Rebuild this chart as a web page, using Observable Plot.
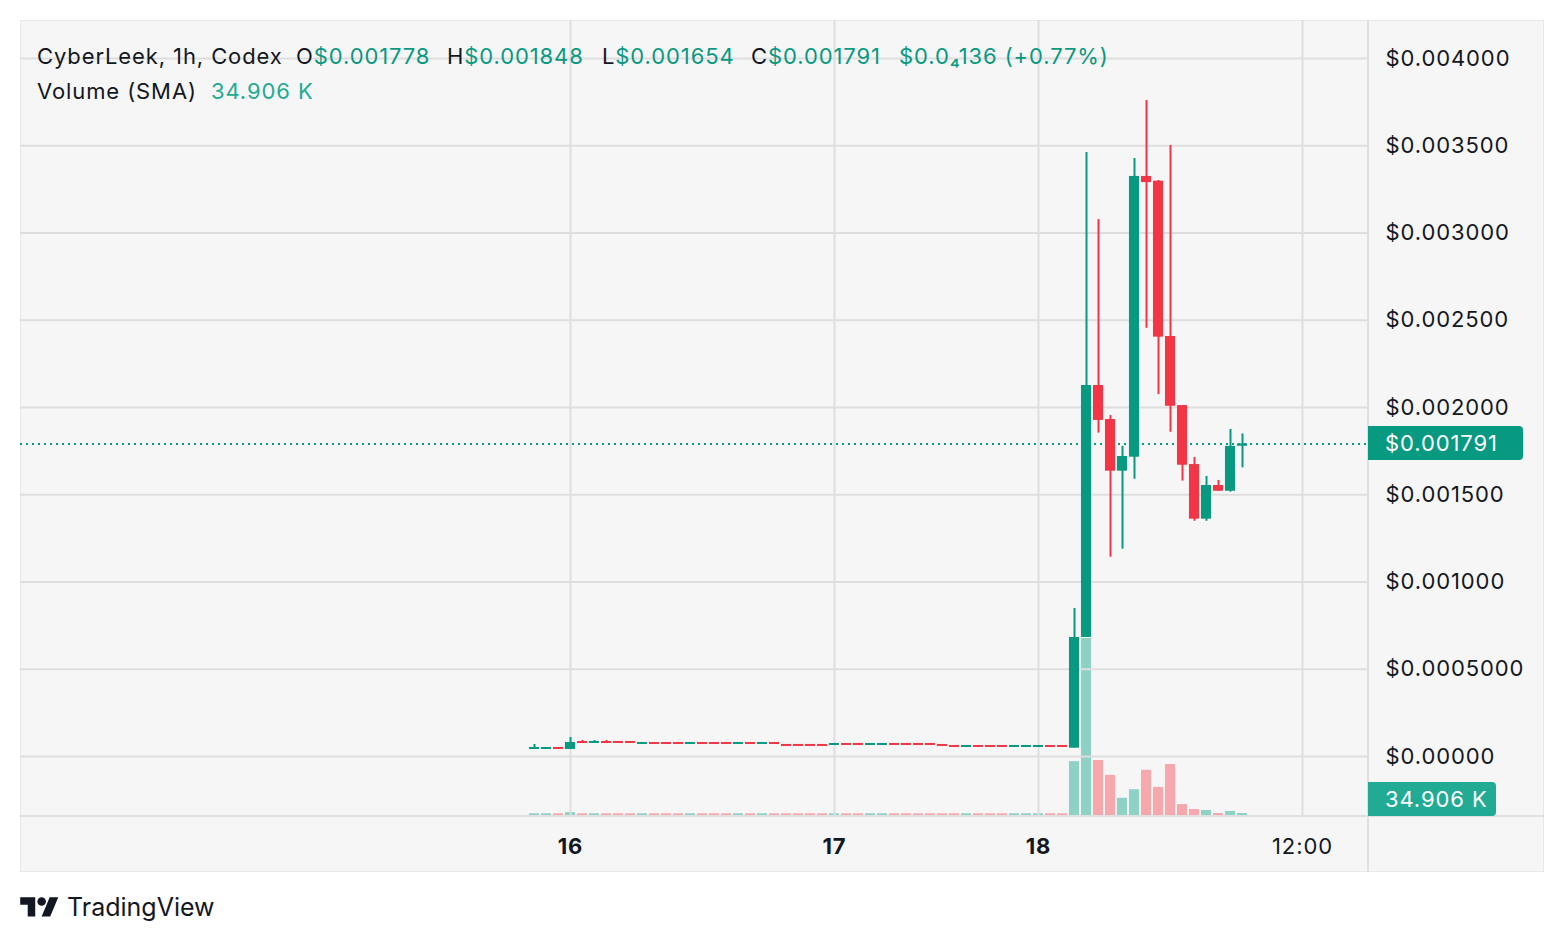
<!DOCTYPE html>
<html><head><meta charset="utf-8">
<script src="https://cdn.jsdelivr.net/npm/d3@7"></script>
<script src="https://cdn.jsdelivr.net/npm/@observablehq/plot@0.6"></script>
<style>
body{margin:0;background:#fff;font-family:Inter,"Noto Sans",sans-serif;}
#wrap{position:relative;width:1564px;height:942px;overflow:hidden;}
#box{position:absolute;left:20px;top:20px;width:1524px;height:852px;background:#f6f6f6;border:1px solid #e8e8ec;box-sizing:border-box;}
.sep{position:absolute;background:#e0e0e0;}
.layer{position:absolute;left:0;top:0;}
.t{position:absolute;font-size:22px;letter-spacing:0.9px;line-height:28px;white-space:pre;color:#131722;}
.g{color:#089981;}
.lbl{position:absolute;color:#fff;font-size:22px;letter-spacing:0.9px;line-height:34px;padding-left:17px;box-sizing:border-box;border-radius:0 4px 4px 0;}
</style></head>
<body><div id="wrap">
<div id="box"></div>
<div class="sep" style="left:1367px;top:20px;width:2px;height:852px"></div>
<div class="sep" style="left:20px;top:815px;width:1524px;height:2px"></div>
<div id="vol" class="layer"></div>
<div id="main" class="layer"></div>
<div class="t" style="left:37px;top:42px">CyberLeek, 1h, Codex</div>
<div class="t" style="left:296px;top:42px">O<span class="g">$0.001778</span></div>
<div class="t" style="left:447px;top:42px">H<span class="g">$0.001848</span></div>
<div class="t" style="left:602px;top:42px">L<span class="g">$0.001654</span></div>
<div class="t" style="left:751px;top:42px">C<span class="g">$0.001791</span></div>
<div class="t g" style="left:899px;top:42px">$0.0₄136 (+0.77%)</div>
<div class="t" style="left:37px;top:77px">Volume (SMA)</div>
<div class="t" style="left:211px;top:77px;color:#22ab94">34.906 K</div>
<div id="plbl" class="lbl" style="background:#089981;width:155px;left:1368px"></div>
<div id="vlbl" class="lbl" style="background:#22ab94;width:128px;left:1368px"></div>
<svg style="position:absolute;left:20px;top:893px" width="39" height="30" viewBox="0 0 36 28"><path fill="#131722" d="M14 22H7V11H0V4h14v18zM28 22h-8l7.5-18h8L28 22z"/><circle fill="#131722" cx="20" cy="8" r="4"/></svg>
<div style="position:absolute;left:67px;top:890px;font-size:25px;line-height:34px;color:#131722">TradingView</div>
</div>
<script>
const open = [
0.0000401,0.0000401,0.0000516,0.0000401,0.0000860,0.0000745,0.0000860,0.0000860,0.0000860,0.0000688,
0.0000802,0.0000802,0.0000802,0.0000688,0.0000802,0.0000802,0.0000802,0.0000688,0.0000802,0.0000688,
0.0000802,0.0000688,0.0000688,0.0000688,0.0000688,0.0000630,0.0000745,0.0000745,0.0000630,0.0000630,
0.0000745,0.0000745,0.0000745,0.0000745,0.0000688,0.0000630,0.0000516,0.0000630,0.0000630,0.0000630,
0.0000516,0.0000516,0.0000516,0.0000630,0.0000630,0.0000476,0.000682,0.002126,0.001931,0.001635,
0.001715,0.003324,0.003297,0.002407,0.002011,0.001673,0.001360,0.001553,0.001520,0.001778];
const close = [
0.0000516,0.0000516,0.0000401,0.0000802,0.0000745,0.0000860,0.0000745,0.0000745,0.0000745,0.0000802,
0.0000688,0.0000688,0.0000688,0.0000802,0.0000688,0.0000688,0.0000688,0.0000802,0.0000688,0.0000802,
0.0000688,0.0000573,0.0000573,0.0000573,0.0000573,0.0000745,0.0000630,0.0000630,0.0000745,0.0000745,
0.0000630,0.0000630,0.0000630,0.0000630,0.0000573,0.0000516,0.0000630,0.0000516,0.0000516,0.0000516,
0.0000630,0.0000630,0.0000630,0.0000516,0.0000516,0.000682,0.002126,0.001926,0.001635,0.001719,
0.003324,0.003289,0.002403,0.002007,0.001669,0.001360,0.001553,0.001520,0.001777,0.001791];
const high = [
0.0000688,0.0000516,0.0000516,0.0001090,0.0000917,0.0000917,0.0000917,0.0000860,0.0000860,0.0000802,
0.0000802,0.0000802,0.0000802,0.0000802,0.0000802,0.0000802,0.0000802,0.0000802,0.0000802,0.0000802,
0.0000802,0.0000688,0.0000688,0.0000688,0.0000688,0.0000745,0.0000745,0.0000745,0.0000745,0.0000745,
0.0000745,0.0000745,0.0000745,0.0000745,0.0000688,0.0000630,0.0000630,0.0000630,0.0000630,0.0000630,
0.0000630,0.0000630,0.0000630,0.0000630,0.0000630,0.000848,0.003461,0.003077,0.001954,0.001777,
0.003427,0.003759,0.003301,0.003501,0.002011,0.001713,0.001605,0.001582,0.001874,0.001848];
const low = [
0.0000401,0.0000401,0.0000401,0.0000401,0.0000745,0.0000745,0.0000745,0.0000745,0.0000745,0.0000688,
0.0000688,0.0000688,0.0000688,0.0000688,0.0000688,0.0000688,0.0000688,0.0000688,0.0000688,0.0000688,
0.0000688,0.0000573,0.0000573,0.0000573,0.0000573,0.0000630,0.0000630,0.0000630,0.0000630,0.0000630,
0.0000630,0.0000630,0.0000630,0.0000630,0.0000573,0.0000516,0.0000516,0.0000516,0.0000516,0.0000516,
0.0000516,0.0000516,0.0000516,0.0000516,0.0000516,0.0000476,0.000682,0.001853,0.001142,0.001188,
0.001589,0.002454,0.002074,0.001858,0.001578,0.001348,0.001348,0.001520,0.001515,0.001654];
const volumeK = [
30,30,30,50,30,30,30,30,30,30,
30,30,30,30,30,30,30,30,30,30,
30,30,30,30,30,30,30,30,30,30,
30,30,30,30,30,30,30,30,30,30,
30,30,30,30,30,940,3090,960,700,300,
450,790,490,890,190,105,87,35,70,34.906];
const priceTicks = [0.004,0.0035,0.003,0.0025,0.002,0.0015,0.001,0.0005,0];
const priceLabels = ["$0.004000","$0.003500","$0.003000","$0.002500","$0.002000","$0.001500","$0.001000","$0.0005000","$0.00000"];
const timeTicks = [3,25,42,64];
const timeLabels = ["16","17","18","12:00"];
const lastClose = 0.001791, lastVolumeK = 34.906;

const UP="#089981", DOWN="#F23645", UPV="#8ed1c5", DOWNV="#f7a8ad";
const bars = open.map((o,i)=>({i, open:o, close:close[i], high:high[i], low:low[i], vol:volumeK[i]}));
const W=1564, H=900, ML=20, MR=196, MT=20, MB=84;
const xDomain=[-42.833,69.5];
const FONT="Inter, 'Noto Sans', sans-serif";

const main = Plot.plot({
  width:W, height:H, marginLeft:ML, marginRight:MR, marginTop:MT, marginBottom:MB,
  style:{background:"transparent", fontFamily:FONT, letterSpacing:"0.9px"},
  x:{type:"linear", domain:xDomain, axis:null},
  y:{type:"linear", domain:[-0.000344,0.0042178], axis:null},
  color:{type:"identity"},
  marks:[
    Plot.gridY(priceTicks,{stroke:"#dedede", strokeOpacity:1, strokeWidth:2}),
    Plot.gridX(timeTicks,{stroke:"#dedede", strokeOpacity:1, strokeWidth:2}),
    Plot.ruleY([lastClose],{stroke:UP, strokeWidth:2, strokeDasharray:"2,4"}),
    Plot.ruleX(bars,{x:"i", y1:"low", y2:"high", stroke:d=>d.close>=d.open?UP:DOWN, strokeWidth:2}),
    Plot.rect(bars,{x1:d=>d.i-0.42, x2:d=>d.i+0.42, y1:"open", y2:"close", fill:d=>d.close>=d.open?UP:DOWN}),
    Plot.text(priceTicks,{y:d=>d, text:(d,i)=>priceLabels[i], frameAnchor:"right", textAnchor:"start", dx:17, fontSize:22, fill:"#131722"}),
    Plot.text(timeTicks.slice(0,3),{x:d=>d, text:(d,i)=>timeLabels[i], frameAnchor:"bottom", dy:37, fontSize:22, fontWeight:"bold", fill:"#131722"}),
    Plot.text(timeTicks.slice(3),{x:d=>d, text:(d,i)=>timeLabels[3+i], frameAnchor:"bottom", dy:37, fontSize:22, fill:"#131722"})
  ]
});
document.getElementById("main").appendChild(main);

const vol = Plot.plot({
  width:W, height:H, marginLeft:ML, marginRight:MR, marginTop:MT, marginBottom:MB,
  style:{background:"transparent"},
  x:{type:"linear", domain:xDomain, axis:null},
  y:{type:"linear", domain:[0,3090], range:[815,638], axis:null},
  color:{type:"identity"},
  marks:[
    Plot.rect(bars,{x1:d=>d.i-0.42, x2:d=>d.i+0.42, y1:0, y2:"vol", fill:d=>d.close>=d.open?UPV:DOWNV})
  ]
});
document.getElementById("vol").appendChild(vol);

const py = main.scale("y").apply(lastClose);
const pl = document.getElementById("plbl");
pl.style.top=(py-17)+"px"; pl.style.height="34px"; pl.textContent="$0.001791";
let vy = vol.scale("y").apply(lastVolumeK);
vy = Math.max(MT+17, Math.min(816-17, vy));
const vl = document.getElementById("vlbl");
vl.style.top=(vy-17)+"px"; vl.style.height="34px"; vl.textContent="34.906 K";
</script>
</body></html>
